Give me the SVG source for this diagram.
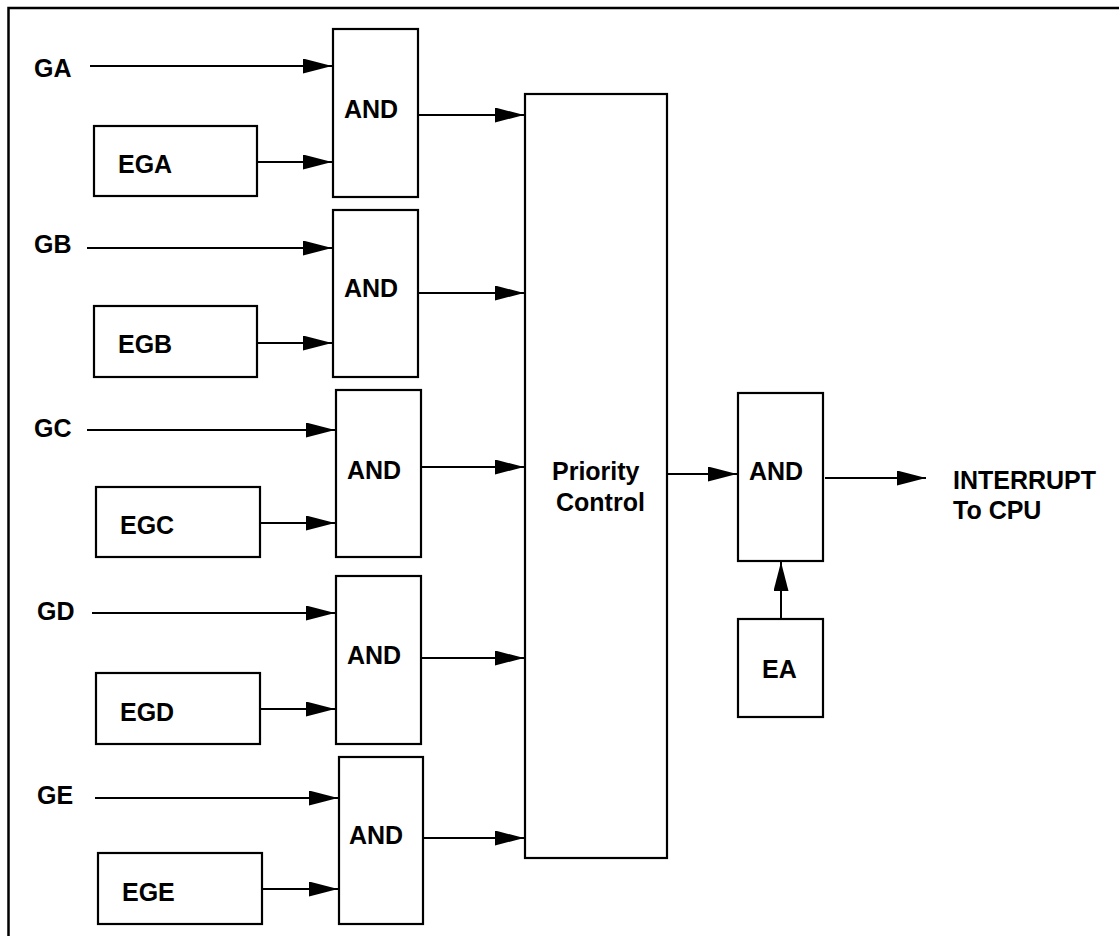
<svg xmlns="http://www.w3.org/2000/svg" width="1119" height="936" viewBox="0 0 1119 936">
<style>
.box{fill:#fff;stroke:#000;stroke-width:2.2}
.lbl{font-family:"Liberation Sans",Arial,sans-serif;font-weight:bold;font-size:25px;fill:#000}
.wire{stroke:#000;stroke-width:2;fill:none;marker-end:url(#ah)}
</style>
<defs>
<marker id="ah" markerUnits="userSpaceOnUse" markerWidth="30" markerHeight="16" refX="29" refY="7.5" orient="auto">
<path d="M0,0 L29,7.5 L0,15 z" fill="#000"/>
</marker>
</defs>
<rect width="1119" height="936" fill="#fff"/>
<path d="M8.5,940 V8 H1122" fill="none" stroke="#000" stroke-width="2.5"/>

<g id="connectors">
<line class="wire" x1="90" y1="66" x2="332" y2="66"/>
<line class="wire" x1="257" y1="162" x2="332" y2="162"/>
<line class="wire" x1="419" y1="115" x2="524" y2="115"/>
<line class="wire" x1="87" y1="248" x2="332" y2="248"/>
<line class="wire" x1="257" y1="343" x2="332" y2="343"/>
<line class="wire" x1="419" y1="293" x2="524" y2="293"/>
<line class="wire" x1="87" y1="430" x2="335" y2="430"/>
<line class="wire" x1="260" y1="523" x2="335" y2="523"/>
<line class="wire" x1="422" y1="467" x2="524" y2="467"/>
<line class="wire" x1="92" y1="613" x2="335" y2="613"/>
<line class="wire" x1="260" y1="709" x2="335" y2="709"/>
<line class="wire" x1="422" y1="658" x2="524" y2="658"/>
<line class="wire" x1="95" y1="798" x2="338" y2="798"/>
<line class="wire" x1="262" y1="889" x2="338" y2="889"/>
<line class="wire" x1="424" y1="838" x2="524" y2="838"/>
<line class="wire" x1="668" y1="474" x2="737" y2="474"/>
<line class="wire" x1="825" y1="478" x2="926" y2="478"/>
<line class="wire" x1="781" y1="618" x2="781" y2="562"/>
</g>

<g id="GA"><text class="lbl" x="34" y="77">GA</text></g>
<g id="GB"><text class="lbl" x="34" y="253">GB</text></g>
<g id="GC"><text class="lbl" x="34" y="437">GC</text></g>
<g id="GD"><text class="lbl" x="37" y="620">GD</text></g>
<g id="GE"><text class="lbl" x="37" y="804">GE</text></g>

<g id="EGA"><rect class="box" x="94" y="126" width="163" height="70"/><text class="lbl" x="118" y="173">EGA</text></g>
<g id="EGB"><rect class="box" x="94" y="306" width="163" height="71"/><text class="lbl" x="118" y="353">EGB</text></g>
<g id="EGC"><rect class="box" x="96" y="487" width="164" height="70"/><text class="lbl" x="120" y="534">EGC</text></g>
<g id="EGD"><rect class="box" x="96" y="673" width="164" height="71"/><text class="lbl" x="120" y="721">EGD</text></g>
<g id="EGE"><rect class="box" x="98" y="853" width="164" height="71"/><text class="lbl" x="122" y="901">EGE</text></g>

<g id="AND-A"><rect class="box" x="333" y="29" width="85" height="168"/><text class="lbl" x="344" y="118">AND</text></g>
<g id="AND-B"><rect class="box" x="333" y="210" width="85" height="167"/><text class="lbl" x="344" y="297">AND</text></g>
<g id="AND-C"><rect class="box" x="336" y="390" width="85" height="167"/><text class="lbl" x="347" y="479">AND</text></g>
<g id="AND-D"><rect class="box" x="336" y="576" width="85" height="168"/><text class="lbl" x="347" y="664">AND</text></g>
<g id="AND-E"><rect class="box" x="339" y="757" width="84" height="167"/><text class="lbl" x="349" y="844">AND</text></g>

<g id="priority"><rect class="box" x="525" y="94" width="142" height="764"/><text class="lbl" x="552" y="480">Priority</text><text class="lbl" x="556" y="511">Control</text></g>

<g id="AND-F"><rect class="box" x="738" y="393" width="85" height="168"/><text class="lbl" x="749" y="480">AND</text></g>
<g id="EA"><rect class="box" x="738" y="619" width="85" height="98"/><text class="lbl" x="762" y="678">EA</text></g>

<g id="interrupt"><text class="lbl" x="953" y="489">INTERRUPT</text><text class="lbl" x="953" y="519">To CPU</text></g>
</svg>
